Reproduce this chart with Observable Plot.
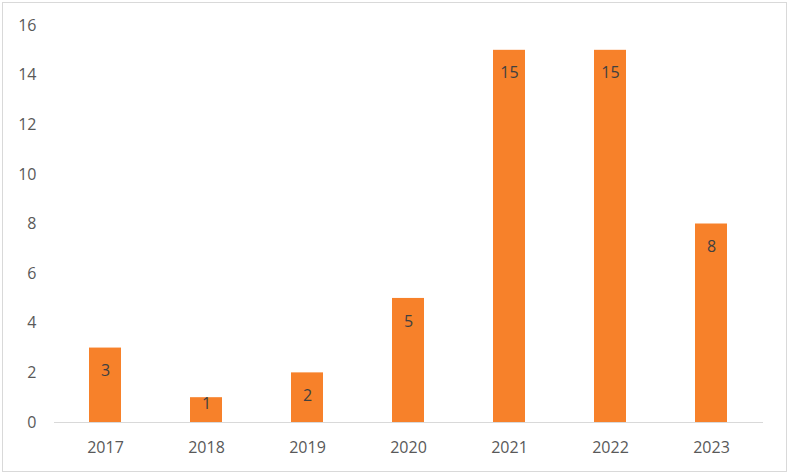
<!DOCTYPE html>
<html>
<head>
<meta charset="utf-8">
<script src="https://cdn.jsdelivr.net/npm/d3@7"></script>
<script src="https://cdn.jsdelivr.net/npm/@observablehq/plot@0.6"></script>
<style>
  html, body { margin: 0; padding: 0; background: #fff; }
  #wrap { position: relative; width: 790px; height: 476px; }
  #border { position: absolute; left: 2px; top: 2px; width: 783px; height: 468px; border: 1px solid #d9d9d9; pointer-events: none; }
  #wrap svg text { font-family: 'Open Sans', 'Noto Sans', sans-serif; font-size: 16px; }
</style>
</head>
<body>
<div id="wrap"><div id="border"></div></div>
<script>
const years = ["2017", "2018", "2019", "2020", "2021", "2022", "2023"];
const counts = [3, 1, 2, 5, 15, 15, 8];
const yTicks = [0, 2, 4, 6, 8, 10, 12, 14, 16];

const data = years.map((y, i) => ({year: y, count: counts[i]}));

const chart = Plot.plot({
  width: 790,
  height: 476,
  marginLeft: 54,
  marginRight: 27,
  marginTop: 25,
  marginBottom: 54,
  style: {fontFamily: "'Open Sans', 'Noto Sans', sans-serif", fontSize: "16px", color: "#595959", background: "transparent"},
  x: {domain: years, paddingInner: 0.68, paddingOuter: 0.34, label: null, tickSize: 0, tickPadding: 19},
  y: {domain: [0, 16], ticks: yTicks, label: null, tickSize: 0, tickPadding: 18},
  marks: [
    Plot.barY(data, {x: "year", y: "count", fill: "#F7812A", inset: 0}),
    Plot.ruleY([0], {stroke: "#d9d9d9", strokeWidth: 1}),
    Plot.text(data.filter(d => d.count >= 2), {x: "year", y: "count", text: d => String(d.count), dy: 23, fill: "#404040"}),
    Plot.text(data.filter(d => d.count < 2), {x: "year", y: "count", text: d => String(d.count), dy: 6, fill: "#404040"})
  ]
});
document.getElementById("wrap").appendChild(chart);
chart.style.position = "absolute";
chart.style.left = "0";
chart.style.top = "0";
</script>
</body>
</html>
